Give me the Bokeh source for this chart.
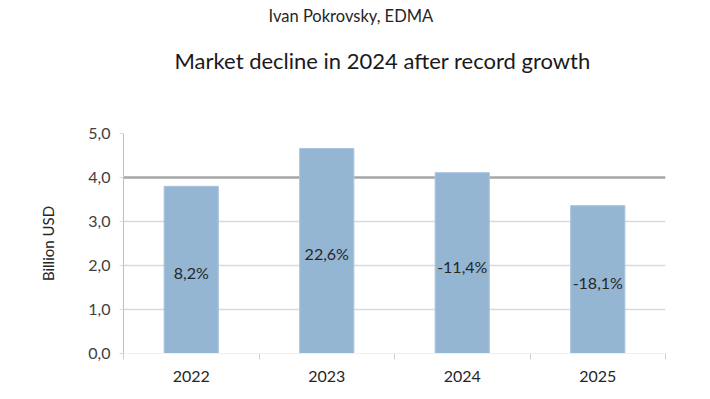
from bokeh.plotting import figure
from bokeh.models import (ColumnDataSource, FixedTicker, Span, Title, Range1d)
from bokeh.embed import file_html
from bokeh.resources import INLINE
from bokeh.core.properties import value

years = ["2022", "2023", "2024", "2025"]
market = [3.80, 4.66, 4.11, 3.36]
growth_labels = ["8,2%", "22,6%", "-11,4%", "-18,1%"]
y_ticks = [0, 1, 2, 3, 4, 5]
y_tick_labels = ["0,0", "1,0", "2,0", "3,0", "4,0", "5,0"]

FONT = "Lato"

xs = [i + 0.5 for i in range(len(years))]
src = ColumnDataSource(dict(
    x=xs, top=market, lab=growth_labels, mid=[v / 2 for v in market]))

p = figure(width=702, height=391, output_backend="svg", toolbar_location=None,
           x_range=Range1d(0, len(years)), y_range=Range1d(0, 5),
           min_border_left=123, min_border_right=37,
           min_border_top=133, min_border_bottom=38)
p.outline_line_color = None
p.background_fill_color = "white"
p.border_fill_color = "white"

p.vbar(x="x", top="top", width=0.4, bottom=0, source=src,
       fill_color="#95b6d3", line_color="#a9c4dc", line_width=1)
p.text(x="x", y="mid", text="lab", source=src, text_align="center",
       text_baseline="middle", y_offset=3, text_font=value(FONT),
       text_font_size="16px", text_color="#262626")

p.add_layout(Span(location=4, dimension="width", line_color="#a6a6a6",
                  line_width=2.5, level="underlay"))

# y axis
p.yaxis.ticker = FixedTicker(ticks=y_ticks)
p.yaxis.major_label_overrides = {t: l for t, l in zip(y_ticks, y_tick_labels)}
p.yaxis.axis_label = "Billion USD"
p.yaxis.axis_label_text_font = FONT
p.yaxis.axis_label_text_font_style = "normal"
p.yaxis.axis_label_text_font_size = "15px"
p.yaxis.axis_label_text_color = "#262626"
p.yaxis.axis_label_standoff = 28
p.yaxis.major_label_text_font = FONT
p.yaxis.major_label_text_font_size = "16px"
p.yaxis.major_label_text_color = "#404040"
p.yaxis.major_label_standoff = 9
p.yaxis.axis_line_color = "#bfbfbf"
p.yaxis.major_tick_line_color = "#d9d9d9"
p.yaxis.major_tick_in = 0
p.yaxis.major_tick_out = 4
p.yaxis.minor_tick_line_color = None

# x axis
p.xaxis.ticker = FixedTicker(ticks=xs, minor_ticks=list(range(len(years) + 1)))
p.xaxis.major_label_overrides = {x: y for x, y in zip(xs, years)}
p.xaxis.major_label_text_font = FONT
p.xaxis.major_label_text_font_size = "16px"
p.xaxis.major_label_text_color = "#262626"
p.xaxis.major_label_standoff = 11
p.xaxis.major_tick_line_color = None
p.xaxis.minor_tick_line_color = "#d0d0d0"
p.xaxis.minor_tick_in = 0
p.xaxis.minor_tick_out = 6
p.xaxis.axis_line_color = "#f0f0f0"

p.xgrid.grid_line_color = None
p.ygrid.ticker = FixedTicker(ticks=y_ticks[1:4])
p.ygrid.grid_line_color = "#d9d9d9"
p.ygrid.grid_line_width = 1.5

spacer = Title(text=" ", text_font_size="1px", standoff=39)
t1 = Title(text="Market decline in 2024 after record growth", align="left",
           offset=51, text_font=FONT, text_font_size="22px",
           text_font_style="normal", text_color="#1a1a1a", standoff=36)
t2 = Title(text="Ivan Pokrovsky, EDMA", align="left", offset=145,
           text_font=FONT, text_font_size="16.5px", text_font_style="normal",
           text_color="#262626", standoff=1)
p.add_layout(spacer, "above")
p.add_layout(t1, "above")
p.add_layout(t2, "above")

open("out.html", "w").write(file_html(p, INLINE))
